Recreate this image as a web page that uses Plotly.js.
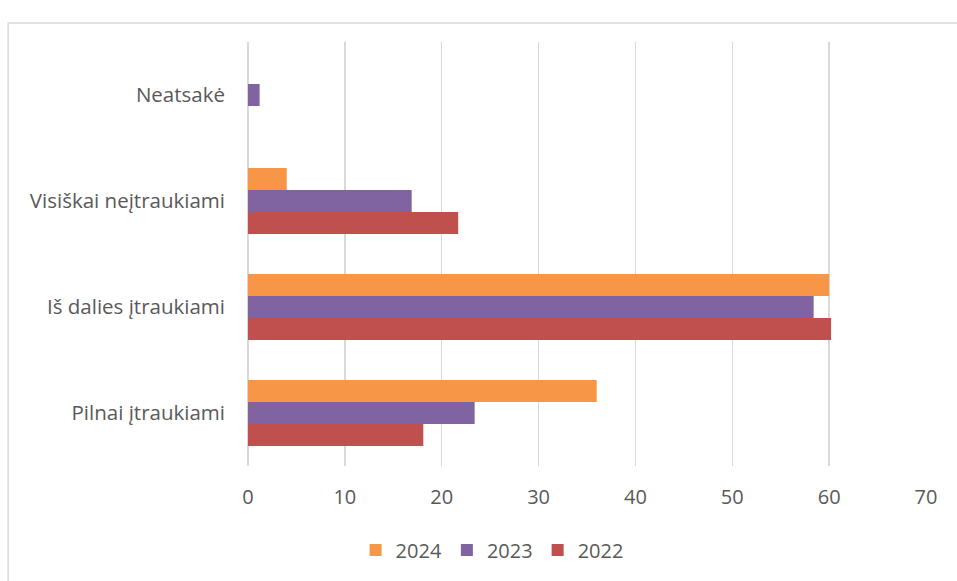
<!DOCTYPE html>
<html>
<head>
<meta charset="utf-8">
<script src="https://cdn.plot.ly/plotly-3.0.1.min.js"></script>
<style>html,body{margin:0;padding:0;background:#fff;}#chart{width:957px;height:581px;}</style>
</head>
<body>
<div id="chart"></div>
<script>
const categories = ["Pilnai įtraukiami", "Iš dalies įtraukiami", "Visiškai neįtraukiami", "Neatsakė"];
const values2022 = [18.1, 60.2, 21.7, 0];
const values2023 = [23.4, 58.4, 16.9, 1.2];
const values2024 = [36.0, 60.0, 4.0, 0];
const xTicks = [0, 10, 20, 30, 40, 50, 60, 70];

const font = {family: "Open Sans, Noto Sans, sans-serif", color: "#595959"};

const traces = [
  {name: "2022", y: categories, x: values2022, color: "#C0504D"},
  {name: "2023", y: categories, x: values2023, color: "#8064A2"},
  {name: "2024", y: categories, x: values2024, color: "#F79646"}
].map(s => ({
  type: "bar", orientation: "h", name: s.name, x: s.x, y: s.y,
  marker: {color: s.color, line: {width: 0}}, hoverinfo: "x+name"
}));

const layout = {
  width: 957, height: 581,
  margin: {l: 247.5, r: 31, t: 42, b: 115},
  paper_bgcolor: "#fff", plot_bgcolor: "#fff",
  barmode: "group", bargap: 0.377, bargroupgap: 0,
  font: Object.assign({size: 20}, font),
  xaxis: {
    range: [0, 70], tickvals: xTicks, ticktext: xTicks.map(String),
    showgrid: true, gridcolor: "#d9d9d9", gridwidth: 1.5,
    zeroline: true, zerolinecolor: "#d9d9d9", zerolinewidth: 1.5,
    showline: false, ticks: "", ticklen: 0, ticklabelstandoff: 17,
    tickfont: Object.assign({size: 20}, font), fixedrange: true
  },
  yaxis: {
    type: "category", categoryorder: "array", categoryarray: categories,
    showgrid: false, zeroline: false, showline: false, ticks: "",
    ticklabelstandoff: 22,
    tickfont: Object.assign({size: 20.5}, font), fixedrange: true
  },
  legend: {
    orientation: "h", traceorder: "reversed",
    x: 0.36, xanchor: "center", y: -0.198, yanchor: "middle",
    font: Object.assign({size: 20}, font), itemwidth: 30
  },
  shapes: [{
    type: "rect", xref: "paper", yref: "paper",
    x0: -0.3537, x1: 1.5, y0: -0.4, y1: 1.0448,
    line: {color: "#d9d9d9", width: 1.5}, fillcolor: "rgba(0,0,0,0)", layer: "below"
  }],
  showlegend: true
};

Plotly.newPlot("chart", traces, layout, {displayModeBar: false, staticPlot: true});
</script>
</body>
</html>
